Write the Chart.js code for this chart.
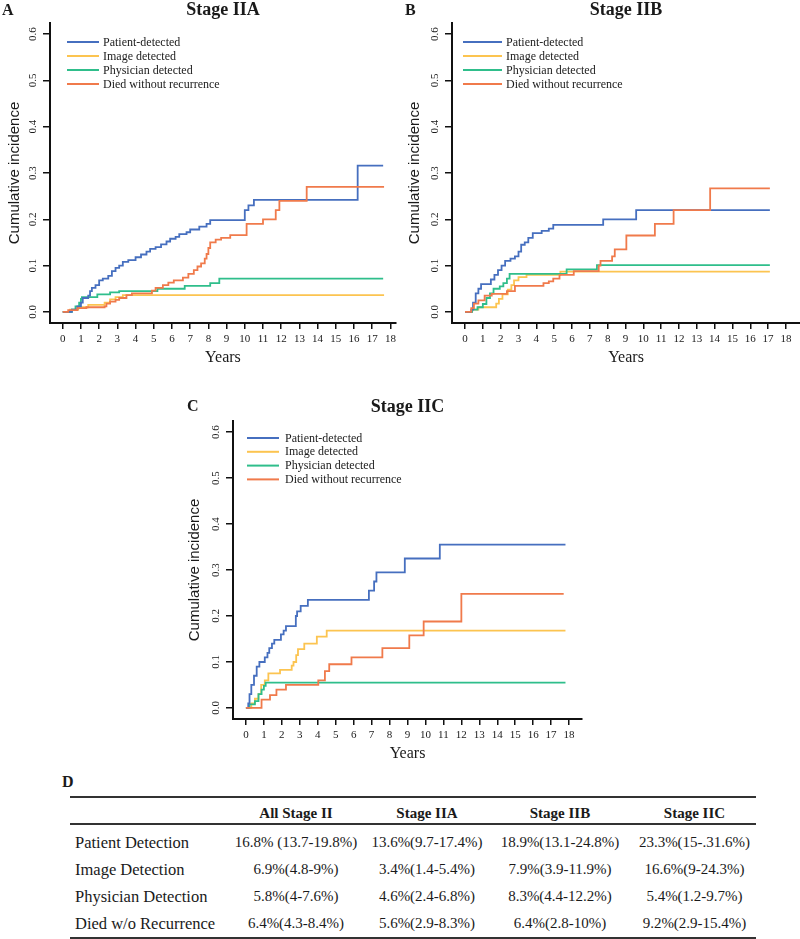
<!DOCTYPE html>
<html><head><meta charset="utf-8">
<script src="https://cdn.jsdelivr.net/npm/chart.js@4/dist/chart.umd.min.js"></script>
<style>
html,body{margin:0;padding:0;background:#fff;width:800px;height:939px;overflow:hidden;position:relative;font-family:'Liberation Serif','Times New Roman',serif;color:#1a1a1a;}
canvas{position:absolute;}
.letter{position:absolute;font-weight:bold;font-size:16px;line-height:16px;}
#tbl{position:absolute;left:70px;top:796px;width:686px;border-collapse:collapse;table-layout:fixed;border-top:2.5px solid #333;border-bottom:2.5px solid #333;}
#tbl th{font-weight:bold;font-size:15px;height:19px;padding:6px 0 0 0;text-align:center;vertical-align:middle;border-bottom:2.5px solid #333;}
#tbl td{font-size:15px;height:27px;padding:0;text-align:center;vertical-align:middle;white-space:nowrap;}
#tbl td.lab{text-align:left;padding-left:5px;font-size:16.5px;}
#tbl tr.first td{padding-top:4px;}
</style></head>
<body>
<canvas id="cA" width="400" height="370" style="left:0;top:0"></canvas>
<canvas id="cB" width="400" height="370" style="left:400px;top:0"></canvas>
<canvas id="cC" width="410" height="370" style="left:180px;top:395px"></canvas>
<div class="letter" style="left:2px;top:2px">A</div>
<div class="letter" style="left:405px;top:2px">B</div>
<div class="letter" style="left:187px;top:398px">C</div>
<div class="letter" style="left:62px;top:774px">D</div>
<table id="tbl"><colgroup><col style="width:155px"><col style="width:142px"><col style="width:120px"><col style="width:146px"><col style="width:123px"></colgroup><thead><tr id="hdr"></tr></thead><tbody id="body"></tbody></table>
<script>
// ---------- DATA ----------
const seriesLabels = ['Patient-detected', 'Image detected', 'Physician detected', 'Died without recurrence'];
const xTicks = [0,1,2,3,4,5,6,7,8,9,10,11,12,13,14,15,16,17,18];
const yTicks = [0, 0.1, 0.2, 0.3, 0.4, 0.5, 0.6];
const yTickLabels = ['0.0','0.1','0.2','0.3','0.4','0.5','0.6'];
const panelTitles = ['Stage IIA', 'Stage IIB', 'Stage IIC'];
const xAxisTitle = 'Years';
const yAxisTitle = 'Cumulative incidence';

// Stage IIA  [years, cumulative incidence]
const iiaPatient = [[0,0],[0.5,0.005],[0.8,0.012],[1.0,0.02],[1.1,0.03],[1.4,0.035],[1.5,0.045],[1.6,0.052],[1.8,0.058],[2.0,0.068],[2.2,0.072],[2.5,0.078],[2.7,0.088],[2.9,0.095],[3.1,0.1],[3.3,0.108],[3.6,0.112],[4.0,0.118],[4.3,0.124],[4.6,0.13],[4.8,0.136],[5.1,0.14],[5.4,0.146],[5.7,0.152],[5.9,0.158],[6.2,0.162],[6.4,0.168],[6.8,0.172],[7.0,0.178],[7.5,0.184],[7.9,0.19],[8.1,0.198],[10.0,0.22],[10.2,0.23],[10.5,0.242],[16.2,0.316],[17.6,0.316]];
const iiaImage = [[0,0],[0.4,0.005],[0.85,0.01],[1.4,0.015],[2.3,0.02],[2.6,0.027],[2.9,0.032],[3.3,0.036],[17.65,0.036]];
const iiaPhysician = [[0,0],[0.5,0.005],[0.7,0.012],[0.9,0.02],[1.0,0.028],[1.05,0.032],[1.9,0.038],[2.6,0.042],[3.1,0.045],[5.2,0.05],[6.7,0.056],[8.1,0.062],[8.6,0.072],[17.6,0.072]];
const iiaDied = [[0,0],[0.3,0.004],[0.8,0.008],[1.3,0.01],[2.3,0.012],[2.4,0.018],[2.6,0.022],[2.9,0.026],[3.1,0.03],[3.5,0.036],[3.8,0.04],[4.9,0.046],[5.1,0.052],[5.5,0.058],[5.8,0.063],[6.1,0.068],[6.6,0.074],[6.9,0.082],[7.2,0.09],[7.4,0.098],[7.6,0.105],[7.8,0.115],[7.9,0.125],[8.0,0.138],[8.1,0.15],[8.4,0.156],[8.7,0.16],[9.2,0.166],[10.1,0.19],[11.0,0.2],[11.7,0.22],[11.9,0.24],[13.4,0.27],[17.65,0.27]];

// Stage IIB
const iibPatient = [[0,0],[0.35,0.005],[0.45,0.02],[0.6,0.04],[0.75,0.05],[0.9,0.06],[1.45,0.07],[1.65,0.08],[1.85,0.09],[2.05,0.1],[2.25,0.11],[2.55,0.115],[2.8,0.12],[3.0,0.13],[3.15,0.145],[3.35,0.15],[3.55,0.16],[3.8,0.17],[4.3,0.175],[4.7,0.18],[4.95,0.188],[7.75,0.2],[9.6,0.22],[17.1,0.22]];
const iibImage = [[0,0],[0.4,0.005],[0.75,0.01],[1.75,0.018],[1.9,0.028],[2.1,0.038],[2.4,0.048],[2.6,0.058],[2.75,0.068],[3.0,0.075],[3.45,0.08],[5.35,0.087],[17.1,0.087]];
const iibPhysician = [[0,0],[0.4,0.005],[0.7,0.01],[1.0,0.017],[1.2,0.03],[1.4,0.04],[1.6,0.05],[1.95,0.055],[2.15,0.062],[2.35,0.072],[2.5,0.082],[5.7,0.092],[7.4,0.101],[17.1,0.101]];
const iibDied = [[0,0],[0.35,0.008],[0.5,0.018],[0.75,0.025],[1.1,0.035],[1.5,0.039],[2.35,0.045],[2.8,0.056],[4.4,0.062],[4.7,0.066],[4.95,0.072],[5.3,0.08],[6.1,0.088],[7.5,0.1],[7.6,0.11],[8.25,0.12],[8.4,0.135],[9.05,0.165],[10.65,0.19],[11.7,0.22],[13.75,0.267],[17.1,0.267]];

// Stage IIC
const iicPatient = [[0,0],[0.13,0.01],[0.2,0.03],[0.3,0.05],[0.45,0.07],[0.6,0.09],[0.75,0.1],[1.05,0.11],[1.2,0.12],[1.3,0.13],[1.45,0.14],[1.58,0.148],[1.95,0.16],[2.1,0.168],[2.23,0.178],[2.78,0.2],[2.85,0.21],[3.05,0.222],[3.45,0.235],[6.85,0.255],[7.14,0.275],[7.27,0.295],[8.85,0.325],[10.8,0.355],[17.8,0.355]];
const iicImage = [[0,0],[0.3,0.01],[0.5,0.02],[0.7,0.03],[0.85,0.05],[1.05,0.06],[1.25,0.075],[1.9,0.083],[2.55,0.092],[2.65,0.1],[2.8,0.115],[2.9,0.128],[3.25,0.14],[3.95,0.155],[4.5,0.168],[17.8,0.168]];
const iicPhysician = [[0,0],[0.2,0.008],[0.5,0.015],[0.7,0.03],[0.87,0.04],[1.0,0.048],[1.1,0.055],[17.8,0.055]];
const iicDied = [[0,0],[0.87,0.018],[1.34,0.028],[1.7,0.04],[2.23,0.05],[4.03,0.06],[4.4,0.08],[4.64,0.095],[5.88,0.11],[7.6,0.13],[9.1,0.158],[9.9,0.188],[12.0,0.248],[17.7,0.248]];

// Table D
const tableColumns = ['All Stage II', 'Stage IIA', 'Stage IIB', 'Stage IIC'];
const tableRowLabels = ['Patient Detection', 'Image Detection', 'Physician Detection', 'Died w/o Recurrence'];
const tablePatient = ['16.8% (13.7-19.8%)', '13.6%(9.7-17.4%)', '18.9%(13.1-24.8%)', '23.3%(15-.31.6%)'];
const tableImage = ['6.9%(4.8-9%)', '3.4%(1.4-5.4%)', '7.9%(3.9-11.9%)', '16.6%(9-24.3%)'];
const tablePhysician = ['5.8%(4-7.6%)', '4.6%(2.4-6.8%)', '8.3%(4.4-12.2%)', '5.4%(1.2-9.7%)'];
const tableDied = ['6.4%(4.3-8.4%)', '5.6%(2.9-8.3%)', '6.4%(2.8-10%)', '9.2%(2.9-15.4%)'];

// ---------- STYLE ----------
const seriesColors = ['#466fbf', '#fcc450', '#2fbe8b', '#f07a4b'];
const serif = "'Liberation Serif','Times New Roman',serif";
const sans = "'Liberation Sans',Arial,sans-serif";
const ink = '#1a1a1a';

const rPlugin = {
  id: 'rstyle',
  afterDraw(chart, args, opts) {
    const ctx = chart.ctx, ca = chart.chartArea, ys = chart.scales.y;
    ctx.save();
    ctx.fillStyle = ink;
    ctx.font = '11px ' + serif;
    ctx.textAlign = 'center';
    ctx.textBaseline = 'middle';
    ys.ticks.forEach((t, i) => {
      const y = ys.getPixelForValue(t.value);
      ctx.save();
      ctx.translate(ca.left - opts.labelOffset, y);
      ctx.rotate(-Math.PI / 2);
      ctx.fillText(yTickLabels[i], 0, 0);
      ctx.restore();
    });
    const lg = opts.legend;
    ctx.font = '12px ' + serif;
    ctx.textAlign = 'left';
    chart.data.datasets.forEach((ds, i) => {
      const y = ca.top + lg.y + i * lg.rowH;
      const x0 = ca.left + lg.x;
      ctx.strokeStyle = ds.borderColor;
      ctx.lineWidth = 2;
      ctx.beginPath(); ctx.moveTo(x0, y); ctx.lineTo(x0 + lg.len, y); ctx.stroke();
      ctx.fillStyle = ink;
      ctx.fillText(ds.label, x0 + lg.len + lg.gap, y + 0.5);
    });
    ctx.restore();
  }
};

function makeChart(id, title, series, g) {
  return new Chart(document.getElementById(id), {
    type: 'line',
    data: {
      datasets: series.map((s, i) => ({
        label: seriesLabels[i],
        data: s.map(p => ({x: p[0], y: p[1]})),
        borderColor: seriesColors[i],
        backgroundColor: seriesColors[i],
        borderWidth: 1.8,
        stepped: 'before',
        pointRadius: 0,
        fill: false,
        order: [1, 3, 2, 0][i]
      }))
    },
    options: {
      responsive: false,
      animation: false,
      events: [],
      layout: {padding: {left: 0, right: g.padRight, top: 0, bottom: 0}},
      plugins: {
        legend: {display: false},
        tooltip: {enabled: false},
        title: {display: true, text: title, fullSize: false, color: ink,
          font: {family: serif, size: 18, weight: 'bold'},
          padding: {top: g.titleTop, bottom: g.titleBottom}},
        rstyle: {labelOffset: 17, legend: g.legend}
      },
      scales: {
        x: {
          type: 'linear', min: g.xMin, max: g.xMax,
          afterBuildTicks: a => { a.ticks = xTicks.map(v => ({value: v})); },
          afterFit: s => { s.height = g.xH; },
          ticks: {color: ink, font: {family: serif, size: 11}, padding: 4, maxRotation: 0, autoSkip: false,
            callback: (v, i) => String(xTicks[i])},
          grid: {display: true, drawOnChartArea: false, drawTicks: true, tickLength: 6, color: '#111', lineWidth: 1.5},
          border: {display: true, color: '#111', width: 2},
          title: {display: true, text: xAxisTitle, color: ink, font: {family: serif, size: 16},
            padding: {top: 0, bottom: g.xTitlePad}}
        },
        y: {
          type: 'linear', min: -0.024, max: 0.624,
          afterBuildTicks: a => { a.ticks = yTicks.map(v => ({value: v})); },
          afterFit: s => { s.width = g.yW; },
          ticks: {display: false, callback: (v, i) => yTickLabels[i]},
          grid: {display: true, drawOnChartArea: false, drawTicks: true, tickLength: 7, color: '#111', lineWidth: 1.5},
          border: {display: true, color: '#111', width: 2},
          title: {display: true, text: yAxisTitle, color: ink, font: {family: sans, size: 15},
            padding: {top: 6, bottom: 0}}
        }
      }
    },
    plugins: [rPlugin]
  });
}

makeChart('cA', panelTitles[0], [iiaPatient, iiaImage, iiaPhysician, iiaDied],
  {padRight: 3, titleTop: 0, titleBottom: 1.4, xMin: -0.7, xMax: 18.3, xH: 47, yW: 50, xTitlePad: 2.4,
   legend: {x: 17, y: 19, len: 32, gap: 4, rowH: 14}});
makeChart('cB', panelTitles[1], [iibPatient, iibImage, iibPhysician, iibDied],
  {padRight: 0, titleTop: 0, titleBottom: 1.4, xMin: -0.73, xMax: 18.79, xH: 47, yW: 52, xTitlePad: 2.4,
   legend: {x: 11, y: 19, len: 39, gap: 4, rowH: 14}});
makeChart('cC', panelTitles[2], [iicPatient, iicImage, iicPhysician, iicDied],
  {padRight: 8, titleTop: 1.2, titleBottom: 3.2, xMin: -0.72, xMax: 18.72, xH: 46, yW: 53, xTitlePad: 1.4,
   legend: {x: 14, y: 17, len: 32, gap: 6, rowH: 13.8}});

// ---------- TABLE ----------
const hdr = document.getElementById('hdr');
hdr.appendChild(document.createElement('th'));
tableColumns.forEach(c => { const th = document.createElement('th'); th.textContent = c; hdr.appendChild(th); });
const body = document.getElementById('body');
[tablePatient, tableImage, tablePhysician, tableDied].forEach((row, r) => {
  const tr = document.createElement('tr');
  if (r === 0) tr.className = 'first';
  const lab = document.createElement('td'); lab.className = 'lab'; lab.textContent = tableRowLabels[r]; tr.appendChild(lab);
  row.forEach(v => { const td = document.createElement('td'); td.textContent = v; tr.appendChild(td); });
  body.appendChild(tr);
});
</script>
</body></html>
